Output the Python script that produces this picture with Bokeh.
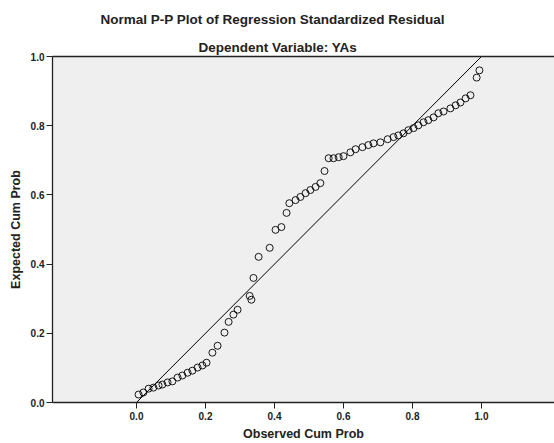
from bokeh.plotting import figure
from bokeh.models import (Range1d, FixedTicker, NumeralTickFormatter, LinearAxis, Title)
from bokeh.embed import file_html
from bokeh.resources import INLINE

# Observed cumulative probability (x) and expected cumulative probability (y)
observed = [0.006, 0.020, 0.035, 0.049, 0.064, 0.075, 0.090, 0.104, 0.119, 0.133,
            0.148, 0.162, 0.177, 0.191, 0.203, 0.220, 0.235, 0.255, 0.267, 0.281,
            0.293, 0.328, 0.333, 0.339, 0.354, 0.386, 0.403, 0.420, 0.435, 0.443,
            0.461, 0.475, 0.490, 0.504, 0.519, 0.533, 0.545, 0.557, 0.571, 0.586,
            0.600, 0.620, 0.635, 0.655, 0.672, 0.687, 0.707, 0.728, 0.745, 0.759,
            0.774, 0.788, 0.803, 0.817, 0.832, 0.846, 0.861, 0.875, 0.890, 0.910,
            0.925, 0.939, 0.954, 0.968, 0.986, 0.994]
expected = [0.023, 0.029, 0.040, 0.043, 0.049, 0.052, 0.058, 0.061, 0.072, 0.078,
            0.086, 0.092, 0.101, 0.107, 0.115, 0.144, 0.164, 0.202, 0.233, 0.254,
            0.268, 0.308, 0.297, 0.360, 0.421, 0.447, 0.499, 0.507, 0.548, 0.576,
            0.585, 0.594, 0.605, 0.614, 0.623, 0.634, 0.669, 0.706, 0.706, 0.709,
            0.712, 0.723, 0.732, 0.738, 0.744, 0.749, 0.752, 0.761, 0.767, 0.772,
            0.778, 0.787, 0.793, 0.801, 0.810, 0.816, 0.824, 0.836, 0.841, 0.850,
            0.859, 0.867, 0.879, 0.888, 0.939, 0.960]

diag = [0.0, 1.0]
tick_values = [0.0, 0.2, 0.4, 0.6, 0.8, 1.0]

title_text = "Normal P-P Plot of Regression Standardized Residual"
subtitle_text = "Dependent Variable: YAs"
x_label = "Observed Cum Prob"
y_label = "Expected Cum Prob"

FONT = "Liberation Sans"
INK = "#222222"

p = figure(width=554, height=443, output_backend="svg", toolbar_location=None,
           x_range=Range1d(-0.2435, 1.2116), y_range=Range1d(0.0, 1.0),
           min_border_left=52, min_border_right=0, min_border_top=56,
           min_border_bottom=41)
p.title = None
p.background_fill_color = "#efefef"
p.border_fill_color = "white"
p.outline_line_color = None
p.grid.visible = False

for ax in (p.xaxis[0], p.yaxis[0]):
    ax.ticker = FixedTicker(ticks=tick_values)
    ax.formatter = NumeralTickFormatter(format="0.0")
    ax.minor_tick_line_color = None
    ax.major_tick_in = 0
    ax.major_tick_out = 6
    ax.axis_line_color = INK
    ax.axis_line_width = 1.3
    ax.major_tick_line_color = INK
    ax.major_label_text_font = FONT
    ax.major_label_text_font_style = "bold"
    ax.major_label_text_font_size = "10px"
    ax.major_label_text_color = INK
    ax.axis_label_text_font = FONT
    ax.axis_label_text_font_style = "bold"
    ax.axis_label_text_font_size = "12.5px"
    ax.axis_label_text_color = INK

p.xaxis[0].major_label_standoff = 3
p.xaxis[0].axis_label = x_label
p.xaxis[0].axis_label_standoff = 4
p.yaxis[0].major_label_standoff = 2
p.yaxis[0].axis_label = y_label
p.yaxis[0].axis_label_standoff = 5

top_axis = LinearAxis(ticker=FixedTicker(ticks=[]), major_label_text_font_size="0px",
                      major_label_standoff=0, major_tick_out=0, major_tick_in=0,
                      major_tick_line_color=None, minor_tick_line_color=None,
                      axis_line_color=INK, axis_line_width=1.3)
p.add_layout(top_axis, "above")

p.add_layout(Title(text=subtitle_text, align="left", offset=146, standoff=4,
                   text_font=FONT, text_font_style="bold", text_font_size="13.5px",
                   text_color=INK), "above")
p.add_layout(Title(text=title_text, align="left", offset=48, standoff=18,
                   text_font=FONT, text_font_style="bold", text_font_size="13.5px",
                   text_color=INK), "above")

p.line(diag, diag, line_color="black", line_width=1)
p.scatter(observed, expected, marker="circle", size=7, fill_color=None,
          line_color="black", line_width=0.9)

open("out.html", "w").write(file_html(p, INLINE))
